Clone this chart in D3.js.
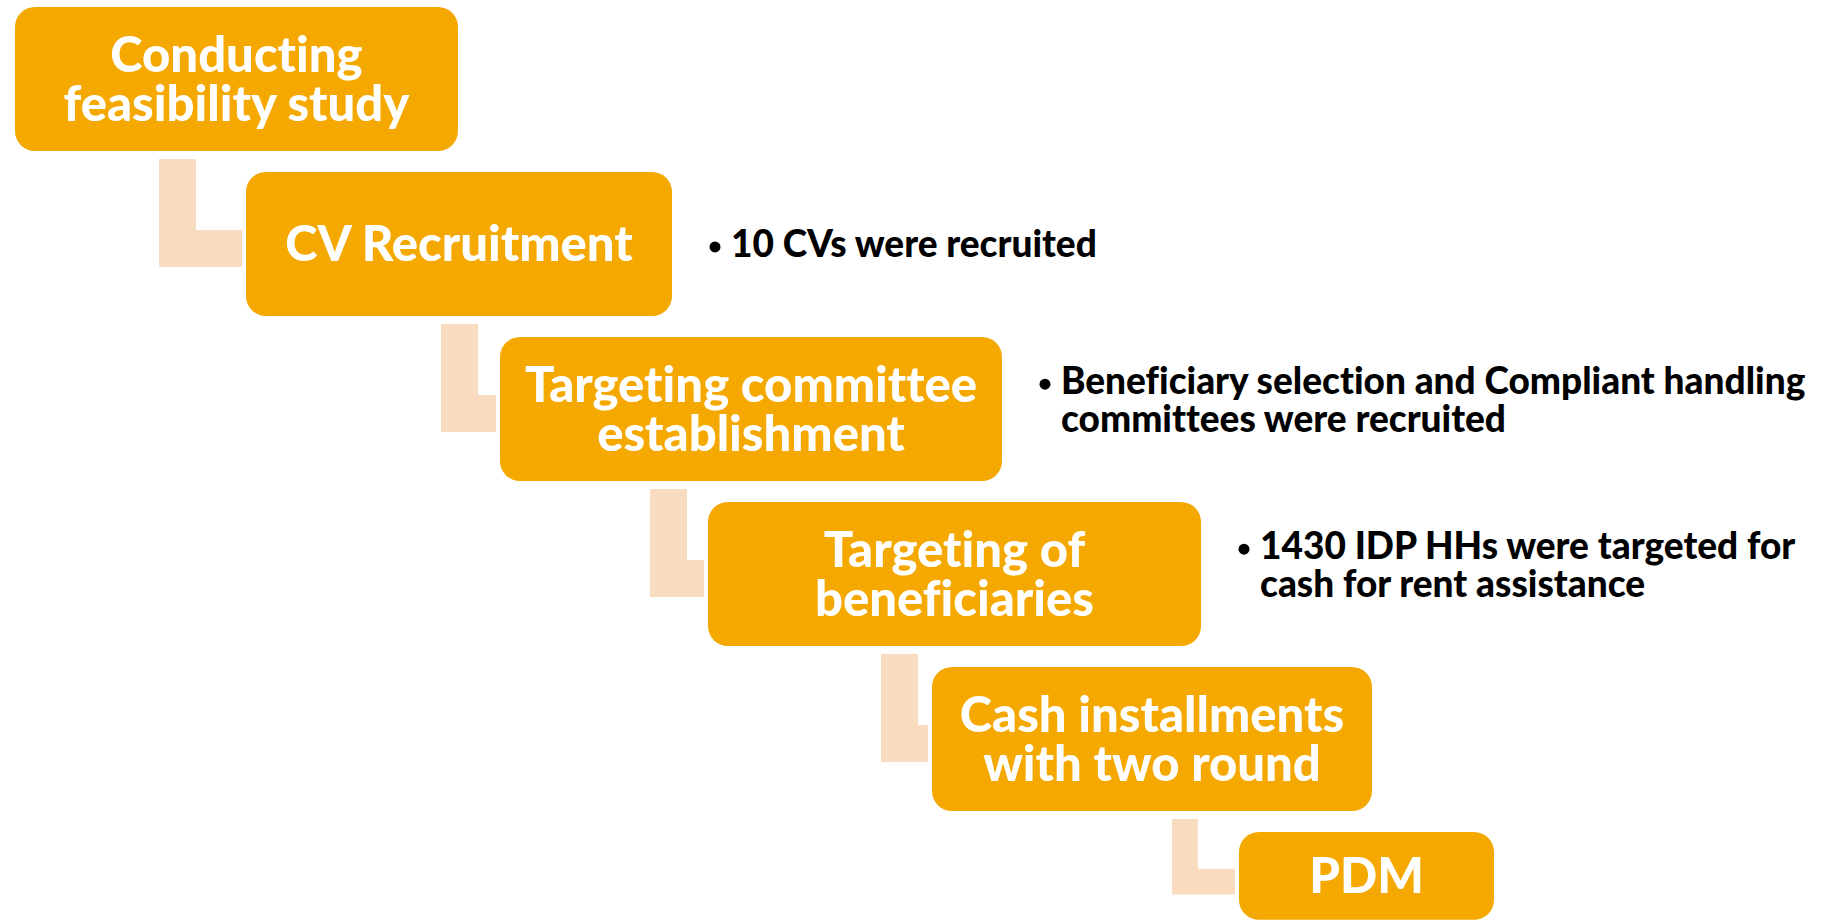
<!DOCTYPE html>
<html>
<head>
<meta charset="utf-8">
<script src="https://cdn.jsdelivr.net/npm/d3@7"></script>
<style>
  body { margin: 0; background: #fff; }
  svg { display: block; }
  .step-label, .note {
    font-family: Lato, "Open Sans", sans-serif;
    font-weight: 900;
    font-variant-ligatures: none;
    font-feature-settings: "liga" 0;
  }
  .step-label { fill: #fff; }
  .note { fill: #000; }
</style>
</head>
<body>
<div id="process"></div>
<script>
// step boxes, top-left to bottom-right
var stepLabels = [
  ["Conducting", "feasibility study"],
  ["CV Recruitment"],
  ["Targeting committee", "establishment"],
  ["Targeting of", "beneficiaries"],
  ["Cash installments", "with two round"],
  ["PDM"]
];

// bullet text shown right of each box
var stepNotes = [
  [],
  ["10 CVs were recruited"],
  ["Beneficiary selection and Compliant handling", "committees were recruited"],
  ["1430 IDP HHs were targeted for", "cash for rent assistance"],
  [],
  []
];

// layout (reference pixel space)
var boxLeft  = [15, 246, 500, 708, 932, 1239],
    boxRight = [458, 672, 1002, 1201, 1372, 1494],
    boxScale = [1, 1, 1, 1, 1, 0.61],
    connX    = [159, 441, 650, 881, 1172],
    connSize = [1, 1, 1, 1, 0.7];

var svg = d3.select("#process").append("svg").attr("width", 1834).attr("height", 920),
    width = +svg.attr("width"),
    height = +svg.attr("height");

var x = d3.scaleLinear().domain([0, 1834]).range([0, width]);
var y = d3.scaleBand()
    .domain(d3.range(stepLabels.length))
    .range([7, 7 + 5 * 165 + 144])
    .paddingInner(0.127);

var boxColor = "#f4a800",
    connColor = "#f9dbc0",
    labelSize = 49,
    labelLine = 49,
    noteSize = 37,
    noteLine = 37.5;

function boxTop(i) { return y(i); }
function boxHeight(i) { return y.bandwidth() * boxScale[i]; }
function boxCenter(i) { return boxTop(i) + boxHeight(i) / 2; }

// L-shaped connectors between boxes
var conns = d3.range(stepLabels.length - 1);
svg.append("g").selectAll("path")
    .data(conns)
  .enter().append("path")
    .attr("fill", connColor)
    .attr("d", function(i) {
      var w = 37 * connSize[i],
          x0 = x(connX[i]),
          x1 = x(boxLeft[i + 1]) - 4,
          y0 = boxTop(i) + boxHeight(i) + 8,
          y1 = y0 + 108 * connSize[i];
      return "M" + x0 + "," + y0 +
             "H" + (x0 + w) +
             "V" + (y1 - w) +
             "H" + x1 +
             "V" + y1 +
             "H" + x0 + "Z";
    });

var steps = svg.append("g").selectAll("g")
    .data(stepLabels)
  .enter().append("g");

steps.append("rect")
    .attr("x", function(d, i) { return x(boxLeft[i]); })
    .attr("y", function(d, i) { return boxTop(i); })
    .attr("width", function(d, i) { return x(boxRight[i]) - x(boxLeft[i]); })
    .attr("height", function(d, i) { return boxHeight(i); })
    .attr("rx", 20)
    .attr("fill", boxColor);

steps.append("text")
    .attr("class", "step-label")
    .attr("text-anchor", "middle")
    .style("font-size", labelSize + "px")
    .each(function(d, i) {
      var cx = (x(boxLeft[i]) + x(boxRight[i])) / 2,
          first = boxCenter(i) + labelSize * 0.35 - (d.length - 1) * labelLine / 2;
      d3.select(this).selectAll("tspan")
          .data(d)
        .enter().append("tspan")
          .attr("x", cx)
          .attr("y", function(t, j) { return first + j * labelLine; })
          .text(function(t) { return t; });
    });

// notes with bullets, keep the step index
var noteData = stepNotes
    .map(function(lines, i) { return {lines: lines, step: i}; })
    .filter(function(d) { return d.lines.length > 0; });

var notes = svg.append("g").selectAll("g")
    .data(noteData)
  .enter().append("g");

notes.each(function(d) {
  var g = d3.select(this),
      i = d.step,
      n = d.lines.length,
      bx = x(boxRight[i]) + 38,
      first = boxCenter(i) + noteSize * 0.35 - (n - 1) * (noteLine / 2 + 9);

  g.append("circle")
      .attr("cx", bx + 5)
      .attr("cy", first - noteSize * 0.27)
      .attr("r", 5.5)
      .attr("fill", "#000");

  g.append("text")
      .attr("class", "note")
      .style("font-size", noteSize + "px")
      .selectAll("tspan")
      .data(d.lines)
    .enter().append("tspan")
      .attr("x", bx + 21)
      .attr("y", function(t, j) { return first + j * noteLine; })
      .text(function(t) { return t; });
});
</script>
</body>
</html>
